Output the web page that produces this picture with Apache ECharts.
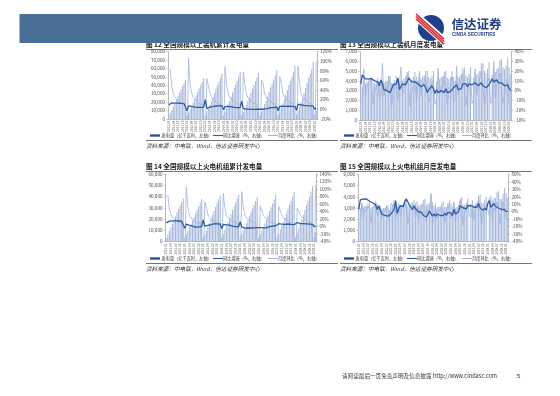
<!DOCTYPE html>
<html><head><meta charset="utf-8">
<script src="https://cdn.jsdelivr.net/npm/echarts/dist/echarts.min.js"></script>
<style>html,body{margin:0;padding:0;background:#fff}#c{width:560px;height:396px}</style>
</head><body><div id="c"></div>
<script>
// ---------- categories (2011-01 .. 2019-02) ----------
const years = [2011,2012,2013,2014,2015,2016,2017,2018,2019];
const months = [];
years.forEach(y => { for (let m = 1; m <= 12; m++) if (months.length < 98) months.push(y + '-' + String(m).padStart(2,'0')); });

// ---------- Fig 12: cumulative generation (all units) ----------
const cumGen = [
 3800,7300,11100,14800,18700,22700,26900,31200,34900,38600,42500,46600,
 3900,7600,11500,15300,19300,23400,27800,32300,36100,39900,44000,48200,
 4200,8100,12400,16600,21000,25500,30500,35600,39900,44200,48800,53500,
 4400,8500,12900,17200,21700,26300,31400,36600,41000,45400,50300,55500,
 4300,8300,12700,16900,21300,25800,30800,35900,40200,44500,49300,54500,
 4400,8500,13100,17400,21900,26600,32000,37500,42000,46500,51900,58000,
 4700,9100,14000,18700,23600,28600,34400,40300,45300,50200,56000,63000,
 5100,9700,15000,19900,25100,30500,36700,42900,48200,53500,59700,67900,
 5400,10200];
const cumGenYoY = [
 9,13,13.6,13.4,13,13,12.8,12.6,12.4,12.2,12,11.8,
 -3,7.1,6.8,6,5,4.8,4.2,4,4,4.3,4.6,4.7,
 20,2,3.6,4.6,5.2,5.6,6.2,7,7,7.1,7.2,7.5,
 -1,5.8,6.3,6,6.1,5.8,5.2,4,3.6,3.5,3.6,3.6,
 17,1.9,1.3,0.6,0.5,0.6,0.4,0.1,0,0,0,0.3,
 2,0.2,1.3,1.2,1.4,1.7,2.7,3.5,3.6,3.6,3.8,5.2,
 -3,6.3,6.7,6.5,6.4,6.3,6.9,6.9,6.7,6.3,6.1,5.7,
 -2,11,10,9,8.5,8.3,7.7,7.7,7.7,7.4,7.4,6.8,
 0,2.9];
const cumGenMoM = [
 null,83,48,33,26,21,18,16,12,11,10,10,
 -90,106,52,34,25,21,18,16,12,10,10,11,
 -90,64,50,35,26,22,19,17,12,10,10,10,
 -90,89,52,33,25,21,19,16,12,11,11,10,
 -90,78,53,33,25,20,19,17,12,11,11,11,
 -90,61,55,33,26,21,21,17,12,11,12,12,
 -90,68,54,34,25,21,20,17,12,11,12,13,
 -90,89,55,33,26,22,20,17,12,11,12,14,
 -90,99];

// ---------- Fig 13: monthly generation (all units) ----------
const monGen = [
 3800,3400,3900,3700,3900,4000,4300,4400,3800,3700,3900,4300,
 3900,3700,4000,3800,4000,4000,4400,4500,3800,3800,4100,4500,
 4100,3700,4200,4000,4200,4400,4900,5000,4200,4100,4400,4900,
 4400,4000,4400,4200,4400,4600,5000,5000,4400,4200,4500,5000,
 null,3900,4400,4200,4400,4500,4900,5000,4300,4200,4400,5000,
 4400,4000,4500,4300,4500,4700,5300,5400,4600,4400,4700,5400,
 null,4300,4800,4600,4800,5000,5800,5800,5000,4800,5200,5900,
 null,4600,5300,4900,5200,5400,6100,6200,5400,5200,5600,6300,
 5400,4700];
const monGenYoY = [
 7,16,14,12,13,12,13,12,12,10,11,9,
 5,11,7,1,2,0,2,-2,2,6,8,7,
 13,1,2,7,5,6,8,13,12,9,7,9,
 8,7,6,4,4,6,3,-2,1,0,5,2,
 -3,1,-2,-2,0,1,-2,2,-2,-3,-1,0,
 3,2,6,1,2,2,7,8,7,4,7,6,
 6,6,8,6,5,6,8,5,7,3,5,6,
 8,12,9,8,11,8,7,8,7,5,4,6,
 2,0];
const monGenMoM = [
 null,-12,22,-5,5,3,12,2,-14,-3,5,10,
 -9,-5,28,-5,5,0,15,2,-16,0,8,10,
 -9,-10,24,-5,5,5,16,2,-16,-2,7,11,
 -10,-9,20,-5,5,5,14,0,-12,-5,7,11,
 -14,-9,23,-5,5,2,14,2,-14,-2,5,14,
 -12,-9,25,-4,5,4,18,2,-15,-4,7,15,
 -13,-9,22,-4,4,4,20,0,-14,-4,8,13,
 -13,-10,30,-8,6,4,18,2,-13,-4,8,12,
 -14,-13];

// ---------- Fig 14: cumulative thermal generation ----------
const cumThermal = [
 3300,6300,9600,12700,15900,19100,22500,26000,29000,32100,35200,38300,
 3400,6500,9700,12700,15700,18800,22000,25300,28200,31300,34500,38000,
 3400,6500,9900,13100,16400,19800,23600,27500,30800,34100,37500,41000,
 3700,7100,10700,13900,17200,20600,24300,28100,31400,34800,38200,41700,
 3500,6700,10100,13200,16300,19500,22900,26500,29600,32700,36100,39800,
 3400,6500,10000,13000,16100,19400,23200,27200,30500,33800,37300,41200,
 3700,7100,10800,14100,17500,21000,25100,29300,32800,36300,40000,44000,
 4100,8000,12100,15800,19700,23600,28000,32500,36300,40100,44400,49200,
 4300,8200];
const cumThermalYoY = [
 10,14.7,14.6,14.8,15.2,15.4,15.6,15.3,15,14.7,14.4,14.1,
 -4,6.9,5.6,3.4,2,1.1,-0.2,-1,-0.8,-0.4,0,0.3,
 18,1.3,2.3,3.5,4.4,5.1,6.2,7.7,7.5,7.5,7.3,7,
 -5,5.8,5.9,5,4.8,4.2,3,1.5,0.9,0.2,0,-0.3,
 13,-1.5,-3.2,-3.9,-3.8,-3.2,-3.6,-3.6,-3.1,-3.1,-2.9,-2.8,
 -5,-2.8,-3.2,-3.1,-3.1,-3,-1.8,0.1,0.9,1.3,1.9,2.4,
 -2,7.9,7.4,7,6.4,6.3,7.1,7.1,6.1,5.9,5.8,5.2,
 1,11,9.6,7.8,8.1,8.3,7.8,7.6,7.2,6.8,6.3,6,
 0,1.7];
const cumThermalMoM = [
 null,84,46,32,25,20,18,16,12,10,10,9,
 -90,106,50,31,23,20,17,15,11,11,10,10,
 -90,66,52,32,25,21,19,17,12,11,10,9,
 -90,88,51,30,23,20,18,16,12,11,10,9,
 -90,93,50,31,23,20,17,16,12,10,10,10,
 -90,55,54,30,24,21,20,17,12,11,10,10,
 -90,53,52,31,24,20,20,17,12,11,10,10,
 -90,49,51,31,25,20,19,16,12,10,11,11,
 -90,111];

// ---------- Fig 15: monthly thermal generation ----------
const monThermal = [
 3300,3000,3300,3100,3200,3200,3400,3500,3000,3100,3200,3600,
 3400,3100,3200,2900,3000,3000,3200,3300,2800,3100,3300,3700,
 3400,3100,3400,3200,3300,3400,3800,3900,3300,3300,3400,3500,
 3700,3400,3600,3200,3300,3400,3700,3800,3300,3400,3400,4200,
 3500,3200,3400,3100,3100,3200,3400,3600,3100,3100,3400,3700,
 3400,3100,3500,3000,3100,3300,3800,4000,3300,3300,3500,3900,
 null,3400,3700,3300,3400,3500,4100,4200,3500,3400,3700,4000,
 null,3900,4100,3700,3900,3900,4400,4500,3800,3800,4300,4800,
 4300,3900];
const monThermalYoY = [
 3,16,18,17,16,17,16,14,15,12,12,9,
 3,8,2,-3,-2,-5,-4,-6,-5,-3,0,3,
 15,-2,4,8,7,7,14,17,13,9,6,3,
 8,4,5,0,1,-1,-5,-4,-7,-4,1,-1,
 -6,-3,-6,-3,-3,-5,-5,-5,-2,-5,-1,-2,
 -2,-5,3,-3,-1,0,8,9,5,4,4,8,
 9,8,7,6,4,6,11,5,5,2,5,2,
 11,15,6,7,11,7,7,5,3,3,4,3,
 0,1];
const monThermalMoM = [
 null,-10,12,-6,3,0,7,3,-14,3,4,13,
 -6,-8,4,-9,3,0,7,3,-15,11,7,12,
 -8,-9,10,-6,3,3,12,3,-16,0,3,3,
 6,-8,6,-11,3,3,9,3,-13,3,0,24,
 -17,-9,6,-9,0,3,6,6,-14,0,10,9,
 -8,-9,13,-14,3,6,15,5,-18,0,6,11,
 -5,-8,9,-11,3,3,17,2,-17,-3,9,8,
 3,-5,5,-10,5,0,13,2,-16,0,13,12,
 -10,-9];

// ---------- texts ----------
const titles = ['图 12 全国规模以上装机累计发电量','图 13 全国规模以上装机月度发电量',
                '图 14 全国规模以上火电机组累计发电量','图 15 全国规模以上火电机组月度发电量'];
const legendNames = ['发电量（亿千瓦时，左轴）','同比增速（%，右轴）','月度环比（%，右轴）'];
const sourceText = '资料来源：中电联，Wind，信达证券研发中心';

// ---------- styles ----------
const BAR = '#a7b9dc', YOY = '#2f5aa8', MOM = '#9fb3dd', LEG_BAR = '#2b4f9c';
const AX = '#8c8c8c', LAB = '#4d4d4d';
const FONT = '"Noto Sans CJK SC","Noto Sans",sans-serif';

const charts = [
  {grid:{left:168,top:51.5,width:149,height:67.5}, lmax:80000,lint:10000, rmin:-20,rmax:120,rint:20,
   bar:cumGen, yoy:cumGenYoY, mom:cumGenMoM, ox:146, ty:44.5, legY:135.5, lineY:140.5, srcY:145.5},
  {grid:{left:360,top:51.5,width:151.5,height:68.5}, lmax:7000,lint:1000, rmin:-30,rmax:40,rint:10,
   bar:monGen, yoy:monGenYoY, mom:monGenMoM, ox:340, ty:44.5, legY:135.5, lineY:140.5, srcY:145.5},
  {grid:{left:165.5,top:174,width:151,height:67.7}, lmax:60000,lint:10000, rmin:-40,rmax:140,rint:20,
   bar:cumThermal, yoy:cumThermalYoY, mom:cumThermalMoM, ox:146, ty:166.5, legY:258.5, lineY:263.5, srcY:268.5},
  {grid:{left:358,top:174.3,width:150.5,height:67.4}, lmax:6000,lint:1000, rmin:-40,rmax:50,rint:10,
   bar:monThermal, yoy:monThermalYoY, mom:monThermalMoM, ox:340, ty:166.5, legY:258.5, lineY:263.5, srcY:268.5}
];

const grid = [], xAxis = [], yAxis = [], series = [], graphic = [];
charts.forEach((c, i) => {
  grid.push(c.grid);
  xAxis.push({type:'category', gridIndex:i, data:months, boundaryGap:true,
    axisLine:{lineStyle:{color:AX, width:0.6}}, axisTick:{show:false},
    axisLabel:{rotate:90, interval:2, fontSize:3.1, color:LAB, margin:1.5, fontFamily:FONT}});
  yAxis.push({type:'value', gridIndex:i, min:0, max:c.lmax, interval:c.lint,
    axisLine:{show:true, lineStyle:{color:AX, width:0.6}}, axisTick:{show:true,length:1.5,lineStyle:{color:AX,width:0.5}}, splitLine:{show:false},
    axisLabel:{fontSize:4.6, color:LAB, margin:3, fontFamily:FONT, formatter:v => v.toLocaleString('en-US')}});
  yAxis.push({type:'value', gridIndex:i, position:'right', min:c.rmin, max:c.rmax, interval:c.rint,
    axisLine:{show:true, lineStyle:{color:AX, width:0.6}}, axisTick:{show:true,length:1.5,lineStyle:{color:AX,width:0.5}}, splitLine:{show:false},
    axisLabel:{fontSize:4.6, color:LAB, margin:3, fontFamily:FONT, formatter:'{value}%'}});
  series.push({type:'bar', name:legendNames[0], xAxisIndex:i, yAxisIndex:2*i, data:c.bar,
    barCategoryGap:'30%', itemStyle:{color:BAR}, silent:true, animation:false});
  series.push({type:'line', name:legendNames[2], xAxisIndex:i, yAxisIndex:2*i+1, data:c.mom,
    symbol:'none', connectNulls:false, lineStyle:{color:MOM, width:0.8}, animation:false, z:3});
  series.push({type:'line', name:legendNames[1], xAxisIndex:i, yAxisIndex:2*i+1, data:c.yoy,
    symbol:'none', lineStyle:{color:YOY, width:1.3}, animation:false, z:4});

  // title + rule
  graphic.push({type:'text', x:c.ox, y:c.ty, style:{text:titles[i], fill:'#222', font:'bold 6.6px ' + FONT, textVerticalAlign:'middle'}});
  graphic.push({type:'line', shape:{x1:c.ox, y1:c.ty+5, x2:c.ox+192, y2:c.ty+5}, style:{stroke:'#555', lineWidth:0.8}});
  // legend
  const lx = [4, 67, 122], tx = [15.5, 77, 132];
  const lc = [LEG_BAR, YOY, MOM], lh = [2.4, 1.1, 1.0];
  for (let k = 0; k < 3; k++) {
    graphic.push({type:'rect', shape:{x:c.ox+lx[k], y:c.legY-lh[k]/2, width:10, height:lh[k]}, style:{fill:lc[k]}});
    graphic.push({type:'text', x:c.ox+tx[k], y:c.legY, style:{text:legendNames[k], fill:'#333', font:'4.2px ' + FONT, textVerticalAlign:'middle'}});
  }
  graphic.push({type:'line', shape:{x1:c.ox, y1:c.lineY, x2:c.ox+192, y2:c.lineY}, style:{stroke:'#666', lineWidth:0.9}});
  graphic.push({type:'text', x:c.ox, y:c.srcY, style:{text:sourceText, fill:'#333', font:'italic 5.6px ' + FONT, textVerticalAlign:'middle'}});
});

// header
graphic.push({type:'rect', shape:{x:19.5, y:14, width:382.5, height:29}, style:{fill:'#4a6f97'}});
graphic.push({type:'group', x:416, y:14, children:[
  {type:'circle', shape:{cx:15, cy:14, r:13}, style:{fill:'#1e3f8e'}},
  {type:'line', shape:{x1:0, y1:2, x2:28, y2:27}, style:{stroke:'#fff', lineWidth:8}},
  {type:'line', shape:{x1:0, y1:0, x2:28, y2:25}, style:{stroke:'#d7262b', lineWidth:1.6}},
  {type:'line', shape:{x1:0, y1:2.5, x2:28, y2:27.5}, style:{stroke:'#d7262b', lineWidth:1.6}},
  {type:'line', shape:{x1:0, y1:5, x2:28, y2:30}, style:{stroke:'#d7262b', lineWidth:1.6}}
]});
graphic.push({type:'text', x:451.5, y:24, style:{text:'信达证券', fill:'#213e85', font:'bold 12.5px ' + FONT, textVerticalAlign:'middle'}});
graphic.push({type:'text', x:452, y:34.5, style:{text:'CINDA SECURITIES', fill:'#213e85', font:'bold 4.6px "Liberation Sans",Arial,sans-serif', textVerticalAlign:'middle'}});
// footer
graphic.push({type:'text', x:342, y:376, style:{text:'请阅读最后一页免责声明及信息披露 http://www.cindasc.com', fill:'#333', font:'5.6px ' + FONT, textVerticalAlign:'middle'}});
graphic.push({type:'text', x:517, y:376, style:{text:'5', fill:'#333', font:'6px "Liberation Sans",Arial,sans-serif', textVerticalAlign:'middle'}});

const chart = echarts.init(document.getElementById('c'), null, {renderer:'canvas'});
chart.setOption({animation:false, grid, xAxis, yAxis, series, graphic});
</script></body></html>
